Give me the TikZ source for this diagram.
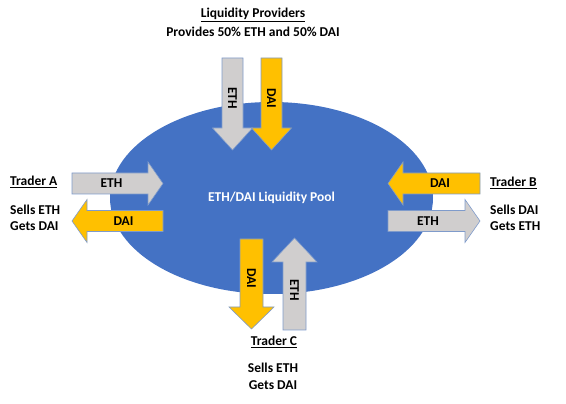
\documentclass[tikz,border=0pt]{standalone}
\usepackage{fontspec}
\setmainfont{Carlito}
\usetikzlibrary{shapes.geometric}
\definecolor{bleupool}{HTML}{4472C4}
\definecolor{grisfl}{HTML}{D0CECE}
\definecolor{jaunefl}{HTML}{FFC000}
\definecolor{bordfl}{HTML}{7F9BCB}
\tikzset{
  texte/.style={font=\fontsize{13.5}{16.5}\selectfont\bfseries, inner sep=0pt},
  gris/.style={fill=grisfl, draw=bordfl, line width=0.6pt},
  jaune/.style={fill=jaunefl, draw=bordfl, line width=0.6pt},
  pics/fleche/.style n args={5}{code={
    \path[pic actions] (0,-#2) -- ({#1-sign(#1)*#4},-#2) -- ({#1-sign(#1)*#4},-#3)
      -- (#1,0) -- ({#1-sign(#1)*#4},#3) -- ({#1-sign(#1)*#4},#2) -- (0,#2) -- cycle;
    \node[texte, transform shape] (-txt) at ({#1/2-sign(#1)*6},0) {#5};
  }},
}
\begin{document}
\begin{tikzpicture}[x=1pt, y=1pt]
    \useasboundingbox (0,0) rectangle (566,404);

    % Pool
    \node[ellipse, fill=bleupool, minimum width=323, minimum height=192,
      texte, text=white] (pool) at (271.5,206) {ETH/DAI Liquidity Pool};

    % Liquidity providers
    \pic (lpEth) [gris, rotate=-90] at (232.5,346) {fleche={92}{10.5}{20}{22}{ETH}};
    \pic (lpDai) [jaune, rotate=-90] at (271.5,346) {fleche={92}{10.5}{20}{22}{DAI}};
    \node[texte] (lp) at (253,389) {\underline{Liquidity Providers}};
    \node[texte] (lpTxt) at (253,372) {Provides 50\% ETH and 50\% DAI};

    % Trader A
    \pic (aEth) [gris] at (72,220.5) {fleche={91}{10.5}{21.5}{15}{ETH}};
    \pic (aDai) [jaune] at (163,183) {fleche={-91}{10.5}{21.5}{15}{DAI}};
    \node[texte, anchor=west] (a) at (10,222) {\underline{Trader A}};
    \node[texte, anchor=west, align=left] (aTxt) at (10,186) {Sells ETH\\Gets DAI};

    % Trader B
    \pic (bDai) [jaune] at (480,220.5) {fleche={-92}{10.5}{21.5}{15}{DAI}};
    \pic (bEth) [gris] at (388,183) {fleche={92}{10.5}{21.5}{15}{ETH}};
    \node[texte, anchor=west] (b) at (490,221) {\underline{Trader B}};
    \node[texte, anchor=west, align=left] (bTxt) at (490,186) {Sells DAI\\Gets ETH};

    % Trader C
    \pic (cDai) [jaune, rotate=-90] at (251.5,165) {fleche={90}{11.5}{22.5}{22}{DAI}};
    \pic (cEth) [gris, rotate=-90] at (294.5,74) {fleche={-92}{11.5}{22.5}{24}{ETH}};
    \node[texte] (c) at (274,62) {\underline{Trader C}};
    \node[texte, align=center] (cTxt) at (273,27.5) {Sells ETH\\Gets DAI};
\end{tikzpicture}
\end{document}
